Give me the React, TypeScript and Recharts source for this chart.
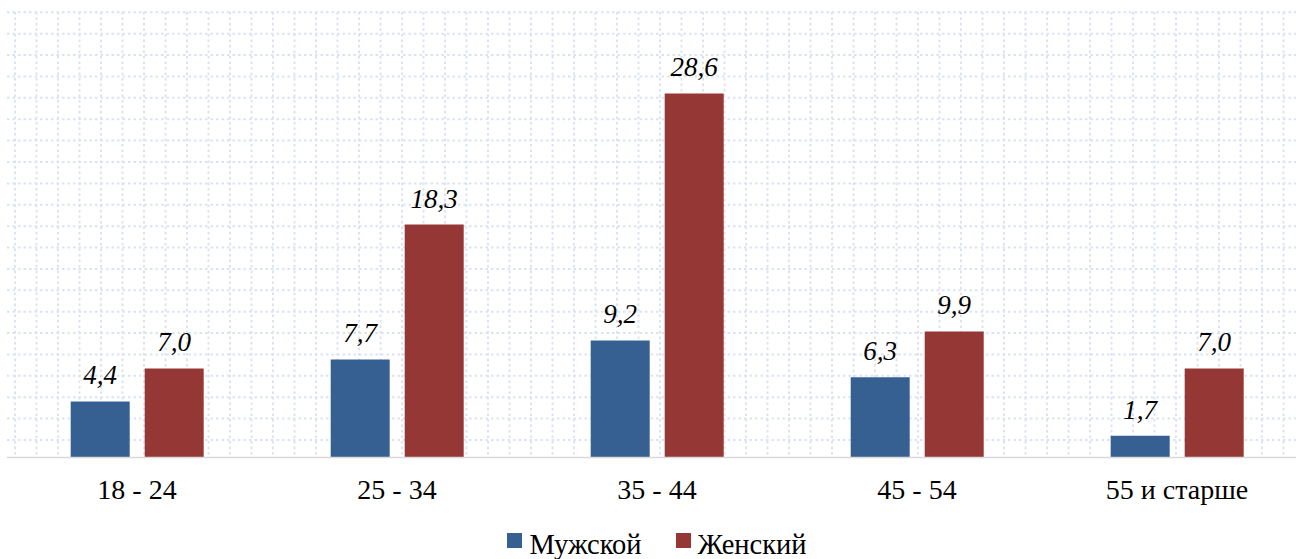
import React from 'react';
import { BarChart, Bar, XAxis, YAxis, CartesianGrid, LabelList, Legend } from 'recharts';

const categories = ['18 - 24', '25 - 34', '35 - 44', '45 - 54', '55 и старше'];
const maleValues = [4.4, 7.7, 9.2, 6.3, 1.7];
const femaleValues = [7.0, 18.3, 28.6, 9.9, 7.0];
const seriesNames = { male: 'Мужской', female: 'Женский' };
const colors = { male: '#376092', female: '#953735' };

const data = categories.map((c, i) => ({ name: c, male: maleValues[i], female: femaleValues[i] }));

const FONT = "'Liberation Serif', 'Times New Roman', Times, serif";
const fmt = (v: any) => Number(v).toFixed(1).replace('.', ',');

const hGen = ({ offset }: any) => {
  const pts: number[] = [];
  const bottom = offset.top + offset.height;
  for (let y = offset.top + 0.3; y < bottom - 2; y += 21.385) pts.push(y);
  return pts;
};
const vGen = ({ offset }: any) => {
  const pts: number[] = [];
  const right = offset.left + offset.width;
  for (let x = offset.left + 8; x < right; x += 21.5) pts.push(x);
  return pts;
};

const LegendContent = () => (
  <div style={{ display: 'flex', justifyContent: 'center', alignItems: 'flex-start', fontFamily: FONT, fontSize: 28.5, lineHeight: '31px', color: '#000' }}>
    {(['male', 'female'] as const).map((k, i) => (
      <div key={k} style={{ display: 'flex', alignItems: 'flex-start', marginLeft: i === 0 ? 0 : 34 }}>
        <span style={{ display: 'inline-block', width: 15, height: 15, background: colors[k], marginTop: 4, marginRight: 7 }} />
        <span>{seriesNames[k]}</span>
      </div>
    ))}
  </div>
);

export default function App() {
  return (
    <div style={{ position: 'absolute', left: 0, top: 0, width: 1296, height: 559, overflow: 'hidden', background: '#fff' }}>
      <BarChart
        width={1310}
        height={559}
        data={data}
        margin={{ top: 12, right: 3, left: 7, bottom: 0 }}
        barCategoryGap="24.5%"
        barGap={15}
      >
        <CartesianGrid
          stroke="#dbe3f2"
          strokeWidth={2}
          strokeDasharray="2.5 3"
          horizontalCoordinatesGenerator={hGen}
          verticalCoordinatesGenerator={vGen}
        />
        <YAxis hide domain={[0, 35]} />
        <XAxis
          dataKey="name"
          height={101.5}
          tickLine={false}
          tickSize={0}
          tickMargin={22}
          axisLine={{ stroke: '#d9d9d9', strokeWidth: 1.5 }}
          tick={{ fontFamily: FONT, fontSize: 28, fill: '#000' }}
          interval={0}
        />
        <Legend
          layout="horizontal"
          verticalAlign="middle"
          align="center"
          wrapperStyle={{ top: 529, left: 0, width: 1314, height: 31 }}
          content={<LegendContent />}
        />
        <Bar dataKey="male" name={seriesNames.male} fill={colors.male} isAnimationActive={false}>
          <LabelList dataKey="male" position="top" offset={17} formatter={fmt}
            style={{ fontFamily: FONT, fontSize: 27, fontStyle: 'italic', fill: '#000' }} />
        </Bar>
        <Bar dataKey="female" name={seriesNames.female} fill={colors.female} isAnimationActive={false}>
          <LabelList dataKey="female" position="top" offset={17} formatter={fmt}
            style={{ fontFamily: FONT, fontSize: 27, fontStyle: 'italic', fill: '#000' }} />
        </Bar>
      </BarChart>
    </div>
  );
}
